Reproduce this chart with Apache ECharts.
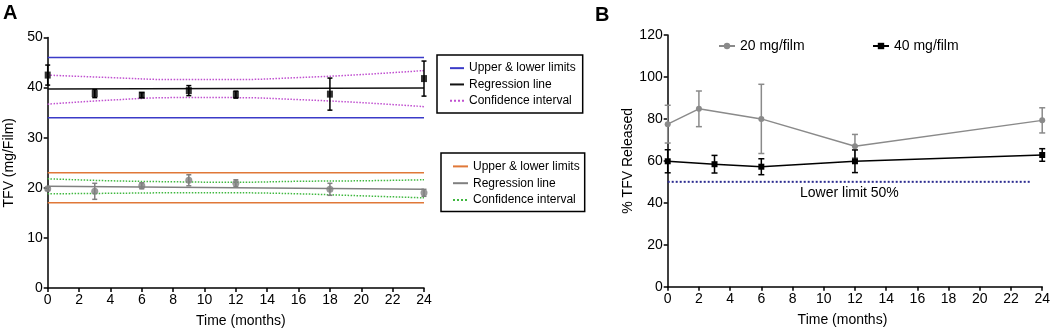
<!DOCTYPE html>
<html>
<head>
<meta charset="utf-8">
<script src="https://cdn.jsdelivr.net/npm/echarts@6/dist/echarts.min.js"></script>
<style>
html,body{margin:0;padding:0;background:#fff;}
#chart{width:1053px;height:333px;}
</style>
</head>
<body>
<div id="chart"></div>
<script>
// ---------- Panel A data ----------
const monthsA = [0, 3, 6, 9, 12, 18, 24];
const tfv40 = [42.5, 38.8, 38.5, 39.4, 38.6, 38.7, 41.8];
const tfv40Err = [2.0, 0.8, 0.5, 1.0, 0.7, 3.2, 3.5];
const tfv20 = [19.8, 19.3, 20.4, 21.5, 20.9, 19.7, 19.0];
const tfv20Err = [0.3, 1.6, 0.6, 1.1, 0.7, 1.2, 0.7];
const regX = [0, 24];
const reg40 = [39.7, 39.9];
const reg20 = [20.3, 19.7];
const ciX = [0, 4, 8, 12, 16, 20, 24];
const ci40Upper = [42.5, 42.0, 41.6, 41.6, 42.0, 42.6, 43.4];
const ci40Lower = [36.7, 37.5, 38.0, 38.0, 37.6, 37.0, 36.2];
const ci20Upper = [21.8, 21.4, 21.2, 21.1, 21.3, 21.4, 21.6];
const ci20Lower = [18.8, 18.9, 19.0, 19.0, 18.8, 18.4, 18.0];
const limits40 = [46, 34];
const limits20 = [23, 17];
const xTicksA = [0, 24, 2];
const yTicksA = [0, 50, 10];

// ---------- Panel B data ----------
const monthsB20 = [0, 2, 6, 12, 24];
const rel20 = [77.5, 84.8, 80.0, 67.0, 79.3];
const rel20Err = [9.0, 8.5, 16.5, 5.6, 6.0];
const monthsB40 = [0, 3, 6, 12, 24];
const rel40 = [59.8, 58.4, 57.2, 59.8, 62.8];
const rel40Err = [5.5, 4.2, 3.8, 5.4, 3.0];
const lowerLimitX = [0, 23.2];
const lowerLimit = 50;
const xTicksB = [0, 24, 2];
const yTicksB = [0, 120, 20];

const FONT = 'Liberation Sans, Arial, sans-serif';
const pairs = (xs, ys) => xs.map((x, i) => [x, ys[i]]);
const triples = (xs, ys, es) => xs.map((x, i) => [x, ys[i], es[i]]);

function errSeries(name, data, color, cap, xi, yi) {
  return {
    type: 'custom', name: name, xAxisIndex: xi, yAxisIndex: yi, z: 3, clip: false,
    data: data,
    renderItem: function (params, api) {
      const x = api.value(0), y = api.value(1), e = api.value(2);
      const t = api.coord([x, y + e]);
      const b = api.coord([x, y - e]);
      const st = { stroke: color, lineWidth: 1.5 };
      return {
        type: 'group',
        children: [
          { type: 'line', shape: { x1: t[0], y1: t[1], x2: b[0], y2: b[1] }, style: st },
          { type: 'line', shape: { x1: t[0] - cap, y1: t[1], x2: t[0] + cap, y2: t[1] }, style: st },
          { type: 'line', shape: { x1: b[0] - cap, y1: b[1], x2: b[0] + cap, y2: b[1] }, style: st }
        ]
      };
    }
  };
}

function hLine(name, xs, y, color, type, width, xi, yi) {
  return {
    type: 'line', name: name, xAxisIndex: xi, yAxisIndex: yi, symbol: 'none',
    data: xs.map(x => [x, y]),
    lineStyle: { color: color, width: width, type: type },
    itemStyle: { color: color }, z: 2, silent: true
  };
}

function curve(name, xs, ys, color, type, width, smooth) {
  return {
    type: 'line', name: name, xAxisIndex: 0, yAxisIndex: 0, symbol: 'none',
    smooth: smooth ? 0.4 : false,
    data: pairs(xs, ys),
    lineStyle: { color: color, width: width, type: type },
    itemStyle: { color: color }, z: 2, silent: true
  };
}

const axisCommon = {
  axisLine: { show: true, onZero: false, lineStyle: { color: '#000', width: 1.5 } },
  axisTick: { show: true, length: 4, lineStyle: { color: '#000', width: 1.5 } },
  splitLine: { show: false },
  axisLabel: { color: '#000', fontSize: 14, fontFamily: FONT },
  nameTextStyle: { color: '#000', fontSize: 14, fontFamily: FONT }
};

const option = {
  animation: false,
  backgroundColor: '#fff',
  title: [
    { text: 'A', left: 3, top: 3, padding: 0, textStyle: { fontSize: 20, fontWeight: 'bold', color: '#000', fontFamily: FONT } },
    { text: 'B', left: 595, top: 5, padding: 0, textStyle: { fontSize: 20, fontWeight: 'bold', color: '#000', fontFamily: FONT } }
  ],
  grid: [
    { left: 47.7, top: 37.5, width: 376.3, height: 250.8 },
    { left: 667.7, top: 35, width: 375.6, height: 251.7 }
  ],
  xAxis: [
    Object.assign({}, axisCommon, {
      type: 'value', gridIndex: 0, min: xTicksA[0], max: xTicksA[1], interval: xTicksA[2],
      name: 'Time (months)', nameLocation: 'middle', nameGap: 26,
      axisLabel: Object.assign({}, axisCommon.axisLabel, { margin: 5 }),
      nameTextStyle: Object.assign({}, axisCommon.nameTextStyle, { padding: [0, 0, 0, 10] })
    }),
    Object.assign({}, axisCommon, {
      type: 'value', gridIndex: 1, min: xTicksB[0], max: xTicksB[1], interval: xTicksB[2],
      name: 'Time (months)', nameLocation: 'middle', nameGap: 26,
      axisLabel: Object.assign({}, axisCommon.axisLabel, { margin: 5 }),
      nameTextStyle: Object.assign({}, axisCommon.nameTextStyle, { padding: [0, 25, 0, 0] })
    })
  ],
  yAxis: [
    Object.assign({}, axisCommon, {
      type: 'value', gridIndex: 0, min: yTicksA[0], max: yTicksA[1], interval: yTicksA[2],
      name: 'TFV (mg/Film)', nameLocation: 'middle', nameGap: 32,
      axisLabel: Object.assign({}, axisCommon.axisLabel, { margin: 5 })
    }),
    Object.assign({}, axisCommon, {
      type: 'value', gridIndex: 1, min: yTicksB[0], max: yTicksB[1], interval: yTicksB[2],
      name: '% TFV Released', nameLocation: 'middle', nameGap: 31,
      axisLabel: Object.assign({}, axisCommon.axisLabel, { margin: 5 })
    })
  ],
  legend: [
    {
      data: ['a1|Upper & lower limits', 'a2|Regression line', 'a3|Confidence interval'],
      formatter: n => n.split('|')[1],
      orient: 'vertical', left: 437, top: 55,
      padding: [5, 7, 4, 12], itemGap: 0, itemWidth: 14, itemHeight: 10,
      itemStyle: { opacity: 0 },
      borderColor: '#000', borderWidth: 1.5, borderRadius: 0,
      textStyle: { fontSize: 12, color: '#000', fontFamily: FONT, lineHeight: 16.3 },
      selectedMode: false
    },
    {
      data: ['b1|Upper & lower limits', 'b2|Regression line', 'b3|Confidence interval'],
      formatter: n => n.split('|')[1],
      orient: 'vertical', left: 441, top: 153,
      padding: [5, 5, 3, 11], itemGap: 0, itemWidth: 15, itemHeight: 10,
      itemStyle: { opacity: 0 },
      borderColor: '#000', borderWidth: 1.5, borderRadius: 0,
      textStyle: { fontSize: 12, color: '#000', fontFamily: FONT, lineHeight: 16.8 },
      selectedMode: false
    },
    {
      data: ['20 mg/film'], left: 718, top: 39, padding: 0, itemWidth: 16, itemHeight: 8,
      textStyle: { fontSize: 14, color: '#000', fontFamily: FONT }, selectedMode: false
    },
    {
      data: ['40 mg/film'], left: 872, top: 39, padding: 0, itemWidth: 16, itemHeight: 8,
      textStyle: { fontSize: 14, color: '#000', fontFamily: FONT }, selectedMode: false
    }
  ],
  graphic: [
    { type: 'text', left: 800, top: 186, style: { text: 'Lower limit 50%', fontSize: 14, fill: '#000', fontFamily: FONT } }
  ],
  series: [
    // Panel A – 40 mg group
    hLine('a1|Upper & lower limits', regX, limits40[0], '#3b3bc8', 'solid', 1.5, 0, 0),
    hLine('a1b', regX, limits40[1], '#3b3bc8', 'solid', 1.5, 0, 0),
    curve('a2|Regression line', regX, reg40, '#111', 'solid', 1.5, false),
    curve('a3|Confidence interval', ciX, ci40Upper, '#c050d0', 'dotted', 1.5, true),
    curve('a3b', ciX, ci40Lower, '#c050d0', 'dotted', 1.5, true),
    errSeries('e40', triples(monthsA, tfv40, tfv40Err), '#000', 2.5, 0, 0),
    {
      type: 'scatter', name: 'p40', xAxisIndex: 0, yAxisIndex: 0, symbol: 'rect', symbolSize: [6, 7],
      data: pairs(monthsA, tfv40), itemStyle: { color: '#000' }, z: 4, clip: false
    },
    // Panel A – 20 mg group
    hLine('b1|Upper & lower limits', regX, limits20[0], '#e07838', 'solid', 1.5, 0, 0),
    hLine('b1b', regX, limits20[1], '#e07838', 'solid', 1.5, 0, 0),
    curve('b2|Regression line', regX, reg20, '#808080', 'solid', 1.5, false),
    curve('b3|Confidence interval', ciX, ci20Upper, '#40b840', 'dotted', 1.5, true),
    curve('b3b', ciX, ci20Lower, '#40b840', 'dotted', 1.5, true),
    errSeries('e20', triples(monthsA, tfv20, tfv20Err), '#808080', 2.5, 0, 0),
    {
      type: 'scatter', name: 'p20', xAxisIndex: 0, yAxisIndex: 0, symbol: 'circle', symbolSize: 7,
      data: pairs(monthsA, tfv20), itemStyle: { color: '#808080' }, z: 4, clip: false
    },
    // Panel B
    hLine('Lower limit', lowerLimitX, lowerLimit, '#2c2c90', 'dotted', 2, 1, 1),
    errSeries('eb20', triples(monthsB20, rel20, rel20Err), '#8a8a8a', 3, 1, 1),
    errSeries('eb40', triples(monthsB40, rel40, rel40Err), '#000', 3, 1, 1),
    {
      type: 'line', name: '20 mg/film', xAxisIndex: 1, yAxisIndex: 1, symbol: 'circle', symbolSize: 6,
      data: pairs(monthsB20, rel20), lineStyle: { color: '#8a8a8a', width: 1.5 },
      itemStyle: { color: '#8a8a8a' }, z: 4, clip: false
    },
    {
      type: 'line', name: '40 mg/film', xAxisIndex: 1, yAxisIndex: 1, symbol: 'rect', symbolSize: 6,
      data: pairs(monthsB40, rel40), lineStyle: { color: '#000', width: 1.5 },
      itemStyle: { color: '#000' }, z: 4, clip: false
    }
  ]
};

const chart = echarts.init(document.getElementById('chart'), null, { renderer: 'canvas' });
chart.setOption(option);
</script>
</body>
</html>
